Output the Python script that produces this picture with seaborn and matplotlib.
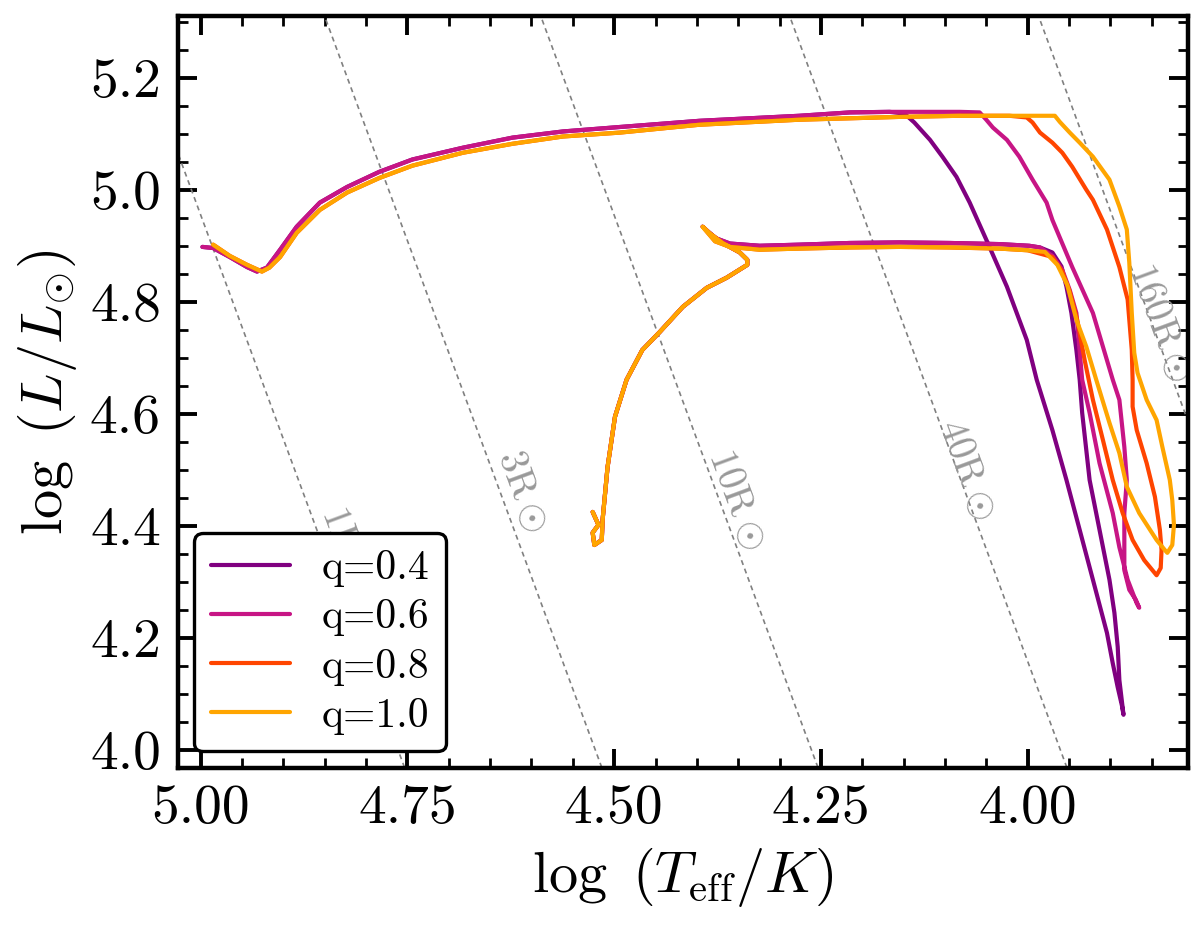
import numpy as np
import pandas as pd
import seaborn as sns
import matplotlib.pyplot as plt
from matplotlib.ticker import MultipleLocator, FormatStrFormatter

# --- main sequence + hook (same for all tracks)
ms_teff = [4.526, 4.519, 4.526, 4.524, 4.515, 4.514, 4.508, 4.499, 4.485, 4.466,
           4.445, 4.417, 4.388, 4.364, 4.339, 4.339, 4.348, 4.369, 4.385, 4.393]
ms_lum = [4.425, 4.402, 4.388, 4.366, 4.375, 4.411, 4.505, 4.595, 4.661, 4.714,
          4.746, 4.791, 4.825, 4.843, 4.866, 4.875, 4.888, 4.905, 4.923, 4.934]

# --- Hertzsprung gap
hg_top_teff = [4.378, 4.360, 4.324, 4.276, 4.215, 4.155, 4.094, 4.034, 3.998, 3.985]
hg_top_lum = [4.914, 4.904, 4.900, 4.902, 4.905, 4.906, 4.905, 4.903, 4.900, 4.897]
hg_low_teff = [4.378, 4.360, 4.324, 4.276, 4.215, 4.155, 4.094, 4.034, 4.000]
hg_low_lum = [4.908, 4.898, 4.893, 4.895, 4.897, 4.898, 4.897, 4.895, 4.892]

# --- stripped (blueward) branch
strip_top_teff = [4.167, 4.215, 4.276, 4.397, 4.493, 4.562, 4.623, 4.683, 4.744, 4.784,
                  4.823, 4.856, 4.884, 4.904, 4.920, 4.932, 4.944, 4.965, 4.985, 4.998]
strip_top_lum = [5.139, 5.138, 5.132, 5.123, 5.112, 5.104, 5.093, 5.075, 5.054, 5.032,
                 5.005, 4.977, 4.934, 4.893, 4.861, 4.854, 4.862, 4.880, 4.896, 4.898]
strip_low_teff = [4.022, 4.082, 4.155, 4.276, 4.397, 4.493, 4.562, 4.623, 4.683, 4.744,
                  4.784, 4.823, 4.856, 4.884, 4.904, 4.917, 4.926, 4.944, 4.965, 4.985]
strip_low_lum = [5.132, 5.132, 5.130, 5.125, 5.116, 5.102, 5.095, 5.082, 5.066, 5.043,
                 5.021, 4.995, 4.964, 4.923, 4.880, 4.861, 4.854, 4.866, 4.882, 4.902]

# --- mass transfer loops (per mass ratio)
q04_teff = [3.970, 3.959, 3.953, 3.947, 3.941, 3.937, 3.934, 3.925, 3.913, 3.901,
            3.895, 3.891, 3.889, 3.884, 3.886, 3.891, 3.897, 3.904, 3.921, 3.937,
            3.953, 3.970, 3.989, 4.001, 4.025, 4.050, 4.070, 4.086, 4.103, 4.118,
            4.137, 4.149]
q04_lum = [4.888, 4.863, 4.827, 4.780, 4.714, 4.661, 4.602, 4.482, 4.393, 4.304,
           4.245, 4.184, 4.125, 4.063, 4.080, 4.112, 4.155, 4.209, 4.304, 4.393,
           4.482, 4.571, 4.661, 4.732, 4.827, 4.911, 4.977, 5.023, 5.059, 5.089,
           5.120, 5.136]

q06_teff = [3.970, 3.958, 3.949, 3.941, 3.934, 3.925, 3.913, 3.897, 3.889, 3.879,
            3.868, 3.865, 3.869, 3.877, 3.883, 3.883, 3.880, 3.883, 3.889, 3.897,
            3.921, 3.946, 3.970, 3.977, 3.994, 4.010, 4.025, 4.042, 4.050, 4.058,
            4.082, 4.155]
q06_lum = [4.882, 4.857, 4.821, 4.780, 4.661, 4.602, 4.512, 4.423, 4.362, 4.304,
           4.262, 4.254, 4.268, 4.286, 4.321, 4.423, 4.482, 4.541, 4.625, 4.661,
           4.780, 4.862, 4.946, 4.977, 5.018, 5.059, 5.089, 5.111, 5.125, 5.138,
           5.139, 5.139]

q08_teff = [3.970, 3.958, 3.949, 3.940, 3.931, 3.921, 3.909, 3.897, 3.885, 3.873,
            3.859, 3.844, 3.839, 3.838, 3.840, 3.846, 3.856, 3.868, 3.873, 3.873,
            3.874, 3.879, 3.889, 3.904, 3.921, 3.929, 3.946, 3.958, 3.970, 3.985,
            3.994, 4.001]
q08_lum = [4.880, 4.854, 4.818, 4.768, 4.696, 4.625, 4.554, 4.482, 4.423, 4.375,
           4.339, 4.312, 4.325, 4.357, 4.393, 4.452, 4.512, 4.571, 4.613, 4.661,
           4.714, 4.804, 4.862, 4.929, 4.982, 5.000, 5.041, 5.066, 5.084, 5.102,
           5.120, 5.129]

q10_teff = [3.979, 3.964, 3.952, 3.941, 3.929, 3.917, 3.901, 3.889, 3.880, 3.865,
            3.844, 3.834, 3.831, 3.825, 3.823, 3.825, 3.828, 3.837, 3.844, 3.856,
            3.867, 3.871, 3.874, 3.877, 3.880, 3.889, 3.901, 3.921, 3.937, 3.949,
            3.961, 3.967, 3.985]
q10_lum = [4.889, 4.866, 4.830, 4.768, 4.720, 4.661, 4.584, 4.530, 4.470, 4.423,
           4.375, 4.357, 4.352, 4.366, 4.402, 4.446, 4.482, 4.541, 4.589, 4.625,
           4.673, 4.709, 4.780, 4.870, 4.929, 4.970, 5.018, 5.059, 5.084, 5.102,
           5.121, 5.132, 5.132]

q_labels = ['q=0.4', 'q=0.6', 'q=0.8', 'q=1.0']
q_colors = ['purple', 'mediumvioletred', 'orangered', 'orange']

radii = [1, 3, 10, 40, 160]
radius_text = [r'$1\mathrm{R}\odot$', r'$3\mathrm{R}\odot$', r'$10\mathrm{R}\odot$',
               r'$40\mathrm{R}\odot$', r'$160\mathrm{R}\odot$']
label_teff = [4.825, 4.612, 4.352, 4.074, 3.841]
label_lum = [4.362, 4.461, 4.446, 4.500, 4.762]

# assemble tracks
pieces = {
    'q=0.4': [(ms_teff, ms_lum), (hg_top_teff, hg_top_lum), (q04_teff, q04_lum), (strip_top_teff, strip_top_lum)],
    'q=0.6': [(ms_teff, ms_lum), (hg_top_teff, hg_top_lum), (q06_teff, q06_lum), (strip_top_teff, strip_top_lum)],
    'q=0.8': [(ms_teff, ms_lum), (hg_low_teff, hg_low_lum), (q08_teff, q08_lum), (strip_low_teff, strip_low_lum)],
    'q=1.0': [(ms_teff, ms_lum), (hg_low_teff, hg_low_lum), (q10_teff, q10_lum), (strip_low_teff, strip_low_lum)],
}
rows = []
for q in q_labels:
    t = np.concatenate([p[0] for p in pieces[q]])
    l = np.concatenate([p[1] for p in pieces[q]])
    rows.append(pd.DataFrame({'teff': t, 'lum': l, 'q': q, 'step': np.arange(len(t))}))
df = pd.concat(rows, ignore_index=True)

sns.set_style('ticks')
plt.rcParams['font.family'] = 'serif'
plt.rcParams['font.serif'] = ['cmr10']
plt.rcParams['mathtext.fontset'] = 'cm'
plt.rcParams['axes.unicode_minus'] = False
plt.rcParams['axes.formatter.use_mathtext'] = True
for k in ['text.color', 'axes.labelcolor', 'axes.edgecolor', 'xtick.color', 'ytick.color']:
    plt.rcParams[k] = 'black'

fig, ax = plt.subplots(figsize=(6, 4.635), dpi=200)
fig.subplots_adjust(left=0.148, right=0.99, bottom=0.1715, top=0.9827)

ax.set_xlim(5.028, 3.806)
ax.set_ylim(3.968, 5.31)

# lines of constant radius
tt = np.array([3.6, 5.2])
for R in radii:
    ax.plot(tt, 2 * np.log10(R) + 4 * (tt - np.log10(5772)), color='gray',
            lw=0.6, dashes=(3.0, 2.4), zorder=1)

p0 = ax.transData.transform((4.5, 4.5))
p1 = ax.transData.transform((4.4, 4.1))
ang = np.degrees(np.arctan2(p1[1] - p0[1], p1[0] - p0[0]))
for x, y, s in zip(label_teff, label_lum, radius_text):
    ax.text(x, y, s, rotation=ang, rotation_mode='anchor', ha='center', va='center',
            color='#999999', fontsize=14, zorder=1, clip_on=True)

sns.lineplot(data=df, x='teff', y='lum', hue='q', hue_order=q_labels,
             palette=dict(zip(q_labels, q_colors)), sort=False, estimator=None,
             lw=1.5, ax=ax, zorder=3)

ax.xaxis.set_major_locator(MultipleLocator(0.25))
ax.xaxis.set_minor_locator(MultipleLocator(0.05))
ax.yaxis.set_major_locator(MultipleLocator(0.2))
ax.yaxis.set_minor_locator(MultipleLocator(0.05))
ax.xaxis.set_major_formatter(FormatStrFormatter('%.2f'))
ax.yaxis.set_major_formatter(FormatStrFormatter('%.1f'))
ax.tick_params(which='both', direction='in', top=True, right=True, labelsize=20)
ax.tick_params(which='major', length=6.8, width=1.4, pad=6)
ax.tick_params(which='minor', length=3.6, width=1.0)
for sp in ax.spines.values():
    sp.set_linewidth(1.6)

ax.set_xlabel(r'$\log\ (T_{\rm eff}/K)$', fontsize=21)
ax.set_ylabel(r'$\log\ (L/L_{\odot})$', fontsize=21)

leg = ax.legend(loc='lower left', fontsize=15, frameon=True, fancybox=True,
                framealpha=1, edgecolor='black', borderaxespad=0.4,
                labelspacing=0.28, handlelength=1.9, handletextpad=0.75)
leg.get_frame().set_linewidth(1.2)
leg.set_zorder(5)

plt.savefig('out.png', dpi=200)
